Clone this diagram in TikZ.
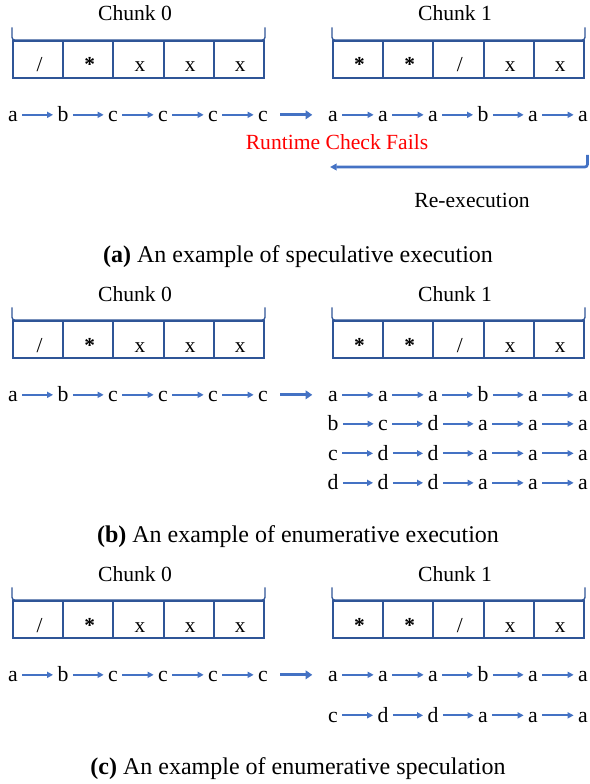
\documentclass[tikz,border=0pt]{standalone}
\usepackage{fontspec}
\setmainfont{Liberation Serif}
\usetikzlibrary{arrows.meta}

\definecolor{boxblue}{RGB}{47,85,151}
\definecolor{arrowblue}{RGB}{68,114,196}
\definecolor{alertred}{RGB}{255,0,0}

\tikzset{
  letter/.style={anchor=base, inner ysep=0pt, inner xsep=3.2pt,
    text height=10pt, text depth=0pt, font=\fontsize{16.3}{19}\selectfont},
  chainarrow/.style={draw=arrowblue, line width=1.3pt,
    -{Triangle[length=4.5pt,width=4.5pt]}},
  bigarrow/.style={draw=arrowblue, line width=2.3pt,
    -{Triangle[length=5pt,width=6.5pt]}, shorten <=6pt, shorten >=8.5pt},
  cell/.style={draw=boxblue, line width=1.5pt, minimum width=37.65pt,
    minimum height=27.75pt, inner sep=0pt},
  celltext/.style={anchor=base, inner sep=0pt,
    font=\fontsize{16}{19}\selectfont},
  bracketline/.style={draw=boxblue, line width=1pt, rounded corners=2pt},
  plainlabel/.style={anchor=base, inner sep=0pt,
    font=\fontsize{16.2}{19}\selectfont},
  caption/.style={anchor=base, inner sep=0pt,
    font=\fontsize{18}{22}\selectfont},
  feedback/.style={draw=arrowblue, line width=2pt, rounded corners=2pt,
    -{Triangle[length=5pt,width=5pt]}},
}

% a row of five cells with a bracket over it
\newcommand\drawbox[4]{% #1 name, #2 left x, #3 top y, #4 contents
  \foreach \t [count=\i] in {#4} {
    \node[cell] (#1-\i) at ({#2+50.2*(\i-1)+25.1}, {#3+18.5}) {};
    \node[celltext] (#1-\i-t) at ({#2+50.2*(\i-1)+26.5}, {#3+31}) {\t};
  }
  \draw[bracketline] ([yshift=9.5pt]#1-1.north west) -- (#1-1.north west)
    -- (#1-5.north east) -- ([yshift=9.5pt]#1-5.north east);
}

% a chain of six states joined by arrows
\newcommand\drawchain[4]{% #1 name, #2 first x, #3 baseline y, #4 states
  \foreach \l [count=\i] in {#4} {
    \node[letter] (#1-\i) at ({#2+50*(\i-1)}, #3) {\l};
  }
  \foreach \i in {1,...,5} {
    \pgfmathtruncatemacro\j{\i+1}
    \draw[chainarrow] (#1-\i) -- (#1-\j);
  }
}

% chunk labels, chunk boxes and the first chains
\newcommand\drawheader[2]{% #1 name, #2 y offset
  \node[plainlabel] (#1-lab0) at (135, #2+21) {Chunk 0};
  \node[plainlabel] (#1-lab1) at (455, #2+21) {Chunk 1};
  \drawbox{#1-b0}{13}{#2+41}{/,\textbf{*},x,x,x}
  \drawbox{#1-b1}{333}{#2+41}{\textbf{*},\textbf{*},/,x,x}
  \drawchain{#1-c0}{13}{#2+121.5}{a,b,c,c,c,c}
  \drawchain{#1-r1}{333}{#2+121.5}{a,a,a,b,a,a}
  \draw[bigarrow] (#1-c0-6) -- (#1-r1-1);
}

\begin{document}
\begin{tikzpicture}[x=0.75pt, y=-0.75pt]
  \useasboundingbox (0,0) rectangle (589,784);

  % (a) speculative execution
  \drawheader{sa}{0}
  \node[plainlabel, text=alertred] (fail) at (337,150) {Runtime Check Fails};
  \coordinate (fbtop) at (587.5,155);
  \coordinate (fbend) at (330,167);
  \draw[feedback] (fbtop) |- (fbend);
  \node[plainlabel] (reexec) at (472,208) {Re-execution};
  \node[caption] (capa) at (298,262) {\textbf{(a)} An example of speculative execution};

  % (b) enumerative execution
  \drawheader{sb}{280}
  \drawchain{sb-r2}{333}{430.5}{b,c,d,a,a,a}
  \drawchain{sb-r3}{333}{460}{c,d,d,a,a,a}
  \drawchain{sb-r4}{333}{489.5}{d,d,d,a,a,a}
  \node[caption] (capb) at (298,542) {\textbf{(b)} An example of enumerative execution};

  % (c) enumerative speculation
  \drawheader{sc}{560}
  \drawchain{sc-r2}{333}{722}{c,d,d,a,a,a}
  \node[caption] (capc) at (298,774) {\textbf{(c)} An example of enumerative speculation};
\end{tikzpicture}
\end{document}
